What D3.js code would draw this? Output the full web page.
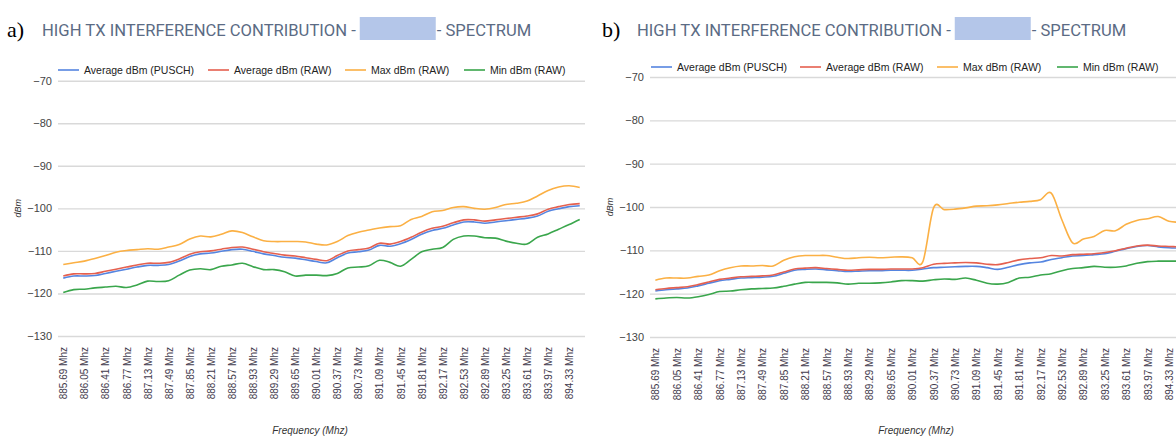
<!DOCTYPE html>
<html>
<head>
<meta charset="utf-8">
<script src="https://cdn.jsdelivr.net/npm/d3@7"></script>
<style>
  body { margin: 0; background: #fff; }
  svg { display: block; }
</style>
</head>
<body>
<svg id="chart" width="1176" height="442"></svg>
<script>
// categories (every point), labels are shown on every second one
var freqs = ["885.69","885.87","886.05","886.23","886.41","886.59","886.77","886.95","887.13","887.31",
  "887.49","887.67","887.85","888.03","888.21","888.39","888.57","888.75","888.93","889.11",
  "889.29","889.47","889.65","889.83","890.01","890.19","890.37","890.55","890.73","890.91",
  "891.09","891.27","891.45","891.63","891.81","891.99","892.17","892.35","892.53","892.71",
  "892.89","893.07","893.25","893.43","893.61","893.79","893.97","894.15","894.33","894.51"];

var yTicks = [-130, -120, -110, -100, -90, -80, -70];

var seriesNames = ["Average dBm (PUSCH)", "Average dBm (RAW)", "Max dBm (RAW)", "Min dBm (RAW)"];

// panel a
var aPusch = [-116.4,-115.9,-115.9,-115.8,-115.3,-114.8,-114.3,-113.8,-113.4,-113.4,
  -113.2,-112.4,-111.3,-110.7,-110.5,-110.1,-109.7,-109.6,-110.1,-110.7,
  -111.1,-111.5,-111.7,-112.1,-112.5,-112.8,-111.6,-110.5,-110.2,-109.8,
  -108.7,-108.9,-108.3,-107.3,-106.1,-105.2,-104.7,-103.9,-103.2,-103.2,
  -103.5,-103.2,-102.9,-102.6,-102.3,-101.8,-100.7,-100.1,-99.6,-99.4];
var aRaw = [-115.9,-115.4,-115.4,-115.3,-114.8,-114.3,-113.8,-113.3,-112.9,-112.9,
  -112.7,-111.9,-110.8,-110.2,-110.0,-109.6,-109.2,-109.1,-109.6,-110.2,
  -110.6,-111.0,-111.2,-111.6,-112.0,-112.3,-111.1,-110.0,-109.7,-109.3,
  -108.2,-108.4,-107.8,-106.8,-105.6,-104.7,-104.2,-103.4,-102.7,-102.7,
  -103.0,-102.7,-102.4,-102.1,-101.8,-101.3,-100.2,-99.6,-99.1,-98.9];
var aMax = [-113.2,-112.8,-112.4,-111.8,-111.1,-110.3,-109.9,-109.7,-109.5,-109.6,
  -109.1,-108.5,-107.2,-106.5,-106.7,-106.1,-105.3,-105.7,-106.7,-107.6,
  -107.8,-107.8,-107.8,-107.9,-108.4,-108.6,-107.8,-106.4,-105.6,-105.1,
  -104.6,-104.3,-104.1,-102.6,-101.9,-100.8,-100.5,-99.8,-99.6,-100.0,
  -100.2,-99.8,-99.1,-98.8,-98.3,-97.1,-95.8,-95.0,-94.7,-95.1];
var aMin = [-119.8,-119.1,-119.0,-118.7,-118.5,-118.3,-118.6,-118.0,-117.1,-117.2,
  -117.0,-115.7,-114.5,-114.2,-114.4,-113.6,-113.3,-112.9,-113.7,-114.4,
  -114.4,-114.9,-115.9,-115.7,-115.7,-115.8,-115.3,-114.0,-113.8,-113.5,
  -112.2,-112.7,-113.6,-112.0,-110.2,-109.6,-109.2,-107.3,-106.5,-106.5,
  -106.9,-107.0,-107.7,-108.2,-108.4,-106.8,-106.0,-104.9,-103.8,-102.6];

// panel b
var bPusch = [-119.4,-119.1,-118.9,-118.7,-118.2,-117.6,-117.0,-116.7,-116.4,-116.3,
  -116.2,-116.0,-115.3,-114.6,-114.4,-114.3,-114.5,-114.7,-114.9,-114.8,
  -114.7,-114.7,-114.6,-114.6,-114.6,-114.3,-114.0,-113.9,-113.8,-113.7,
  -113.7,-114.0,-114.4,-113.9,-113.3,-112.9,-112.7,-112.1,-111.7,-111.3,
  -111.2,-111.0,-110.8,-110.2,-109.6,-109.1,-108.9,-109.2,-109.4,-109.5];
var bRaw = [-119.1,-118.8,-118.6,-118.4,-117.9,-117.3,-116.7,-116.4,-116.1,-116.0,
  -115.9,-115.7,-115.0,-114.3,-114.1,-114.0,-114.2,-114.4,-114.6,-114.5,
  -114.4,-114.4,-114.3,-114.3,-114.3,-114.0,-113.2,-113.0,-112.9,-112.8,
  -112.9,-113.2,-113.3,-112.8,-112.2,-111.9,-111.7,-111.2,-111.3,-111.0,
  -110.9,-110.8,-110.5,-110.1,-109.5,-109.0,-108.8,-109.0,-109.1,-109.2];
var bMax = [-116.9,-116.4,-116.4,-116.4,-116.0,-115.7,-114.7,-114.0,-113.6,-113.6,
  -113.5,-113.6,-112.3,-111.5,-111.2,-111.2,-111.2,-111.6,-111.9,-111.7,
  -111.6,-111.7,-111.6,-111.5,-111.7,-112.6,-100.2,-100.6,-100.5,-100.2,
  -99.8,-99.7,-99.5,-99.2,-98.9,-98.7,-98.3,-96.8,-103.0,-108.3,
  -107.4,-106.8,-105.4,-105.5,-104.0,-103.1,-102.7,-102.2,-103.3,-103.5];
var bMin = [-121.2,-121.0,-120.9,-121.0,-120.7,-120.2,-119.5,-119.4,-119.1,-118.9,
  -118.8,-118.7,-118.3,-117.8,-117.4,-117.4,-117.4,-117.5,-117.8,-117.6,
  -117.6,-117.5,-117.3,-117.0,-117.0,-117.1,-116.8,-116.6,-116.7,-116.4,
  -116.9,-117.6,-117.8,-117.4,-116.4,-116.2,-115.7,-115.4,-114.7,-114.2,
  -114.0,-113.7,-113.9,-113.9,-113.6,-113.0,-112.6,-112.5,-112.5,-112.5];

var colors = ["#5585e0", "#e5604f", "#fbb044", "#3aa64c"];

var svg = d3.select("#chart");

function drawPanel(p, series) {
  var g = svg.append("g");

  var x = d3.scalePoint().domain(freqs).range([p.left, p.right]).padding(0.5);
  var y = d3.scaleLinear().domain([-130, -70]).range([p.bottom, p.top]);

  // panel letter + title
  g.append("text").attr("x", p.letterX).attr("y", 37)
    .style("font-family", "'Liberation Serif', 'DejaVu Serif', serif")
    .style("font-size", "22px").style("fill", "#000").text(p.letter);

  var t1 = g.append("text").attr("x", p.titleX).attr("y", 36)
    .style("font-family", "Roboto, 'Noto Sans', sans-serif")
    .style("font-size", "16.6px").style("fill", "#5b6b84")
    .text("HIGH TX INTERFERENCE CONTRIBUTION -");
  var w1 = t1.node().getComputedTextLength();
  g.append("rect").attr("x", p.titleX + w1 + 4).attr("y", 17)
    .attr("width", 76).attr("height", 23).attr("fill", "#b4c6e9");
  g.append("text").attr("x", p.titleX + w1 + 81).attr("y", 36)
    .style("font-family", "Roboto, 'Noto Sans', sans-serif")
    .style("font-size", "16.6px").style("fill", "#5b6b84")
    .text("- SPECTRUM");

  // gridlines + y labels
  var yAxis = g.append("g").attr("transform", "translate(" + p.left + ",0)")
    .call(d3.axisLeft(y).tickValues(yTicks).tickSize(-(p.right - p.left)).tickPadding(6).tickFormat(d3.format("d")));
  yAxis.select(".domain").remove();
  yAxis.selectAll(".tick line").attr("stroke", "#d9d9d9").attr("stroke-width", 1.4);
  yAxis.selectAll(".tick text")
    .style("font-family", "'Liberation Sans', Arial, sans-serif")
    .style("font-size", "11px").style("fill", "#444");

  // x labels, every second category
  var xAxis = g.append("g").attr("transform", "translate(0," + (p.bottom + 5) + ")")
    .call(d3.axisBottom(x).tickValues(freqs.filter(function(d, i) { return i % 2 === 0; }))
      .tickSize(0).tickFormat(function(d) { return d + " Mhz"; }));
  xAxis.select(".domain").remove();
  xAxis.selectAll(".tick text")
    .attr("transform", "rotate(-90)")
    .attr("x", -6).attr("y", 0).attr("dy", "0.35em")
    .style("text-anchor", "end")
    .style("font-family", "'Liberation Sans', Arial, sans-serif")
    .style("font-size", "10px").style("fill", "#3f3a4c");

  // axis titles
  g.append("text").attr("transform", "translate(" + p.dbmX + "," + ((p.top + p.bottom) / 2) + ") rotate(-90)")
    .style("text-anchor", "middle")
    .style("font-family", "'Liberation Sans', Arial, sans-serif")
    .style("font-size", "9px").style("font-style", "italic").style("fill", "#333")
    .text("dBm");
  g.append("text").attr("x", p.freqX).attr("y", 434)
    .style("text-anchor", "middle")
    .style("font-family", "'Liberation Sans', Arial, sans-serif")
    .style("font-size", "10px").style("font-style", "italic").style("fill", "#333")
    .text("Frequency (Mhz)");

  // lines
  var line = d3.line()
    .x(function(d, i) { return x(freqs[i]); })
    .y(function(d) { return y(d); })
    .curve(d3.curveCardinal);

  series.forEach(function(s, i) {
    g.append("path").datum(s)
      .attr("fill", "none")
      .attr("stroke", colors[i])
      .attr("stroke-width", 1.6)
      .attr("d", line);
  });

  // legend
  var lg = g.append("g").attr("transform", "translate(0," + p.legendY + ")");
  p.legendX.forEach(function(lx, i) {
    lg.append("line").attr("x1", lx).attr("x2", lx + 21).attr("y1", 0).attr("y2", 0)
      .attr("stroke", colors[i]).attr("stroke-width", 1.6);
    lg.append("text").attr("x", lx + 26).attr("y", 4)
      .style("font-family", "'Liberation Sans', Arial, sans-serif")
      .style("font-size", "10.5px").style("fill", "#222")
      .text(seriesNames[i]);
  });
}

drawPanel({ letter: "a)", letterX: 7, titleX: 42, left: 58, right: 585, top: 80.7, bottom: 336,
  dbmX: 21, freqX: 310, legendY: 70, legendX: [58, 208, 345, 464] },
  [aPusch, aRaw, aMax, aMin]);

drawPanel({ letter: "b)", letterX: 602, titleX: 637, left: 650, right: 1185, top: 77, bottom: 337,
  dbmX: 613, freqX: 916, legendY: 67, legendX: [651, 800, 937, 1057] },
  [bPusch, bRaw, bMax, bMin]);
</script>
</body>
</html>
